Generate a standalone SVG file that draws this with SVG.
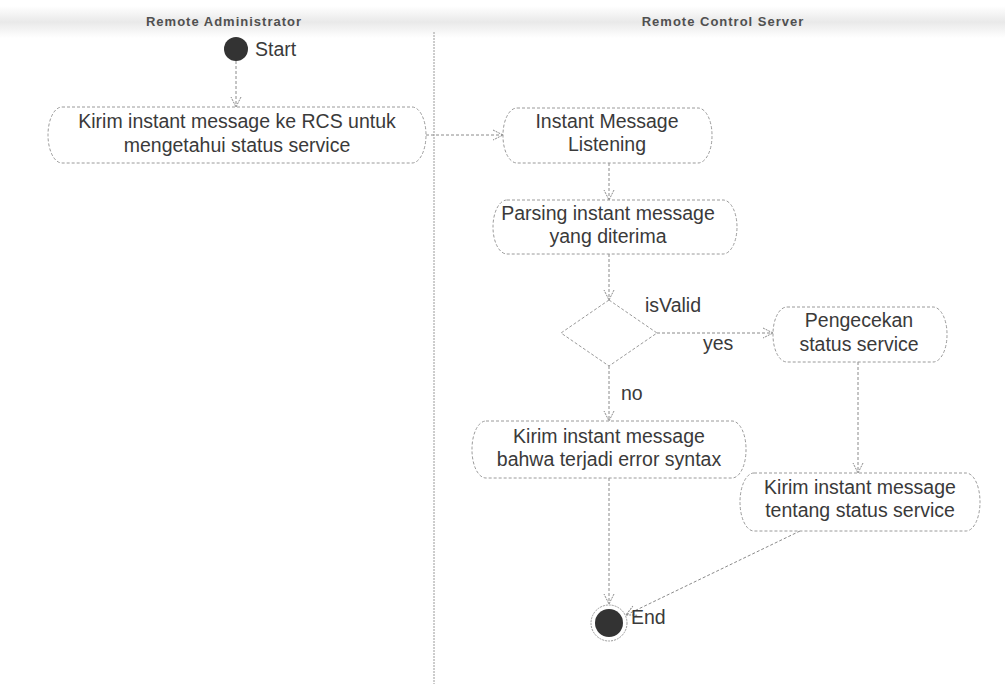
<svg xmlns="http://www.w3.org/2000/svg" width="1005" height="684" viewBox="0 0 1005 684">
<defs>
<linearGradient id="band" x1="0" y1="0" x2="0" y2="1">
<stop offset="0" stop-color="#ffffff"/>
<stop offset="0.5" stop-color="#e9e9e9"/>
<stop offset="1" stop-color="#ffffff"/>
</linearGradient>
<marker id="arr" viewBox="0 0 12 12" refX="11" refY="6" markerWidth="12" markerHeight="12" markerUnits="userSpaceOnUse" orient="auto">
<path d="M1,1 L11,6 L1,11" fill="none" stroke="#8a8a8a" stroke-width="1" stroke-dasharray="2,1"/>
</marker>
<style>
.node{fill:#ffffff;stroke:#9a9a9a;stroke-width:1;stroke-dasharray:3,2}
.t{font-family:"Liberation Sans",Arial,sans-serif;font-size:19.5px;fill:#3a3a3a;text-anchor:middle}
.lbl{font-family:"Liberation Sans",Arial,sans-serif;font-size:19.5px;fill:#3a3a3a}
.hdr{font-family:"Liberation Sans",Arial,sans-serif;font-size:13px;font-weight:bold;fill:#505050;text-anchor:middle;letter-spacing:1px}
.c{fill:none;stroke:#8a8a8a;stroke-width:1;stroke-dasharray:3,2}
</style>
</defs>
<rect width="1005" height="684" fill="#ffffff"/>
<g id="lanes">
<rect x="0" y="6" width="1005" height="32" fill="url(#band)"/>
<text class="hdr" x="224" y="26">Remote Administrator</text>
<text class="hdr" x="723" y="26">Remote Control Server</text>
<line x1="434" y1="32" x2="434" y2="684" stroke="#9a9a9a" stroke-width="1" stroke-dasharray="2,1"/>
</g>
<g id="connectors">
<line class="c" x1="236" y1="61" x2="236" y2="107" marker-end="url(#arr)"/>
<line class="c" x1="426" y1="135" x2="503" y2="135" marker-end="url(#arr)"/>
<line class="c" x1="609" y1="163" x2="609" y2="200" marker-end="url(#arr)"/>
<line class="c" x1="609" y1="254" x2="609" y2="300" marker-end="url(#arr)"/>
<line class="c" x1="657" y1="333" x2="773" y2="333" marker-end="url(#arr)"/>
<line class="c" x1="609" y1="366" x2="609" y2="421" marker-end="url(#arr)"/>
<line class="c" x1="858" y1="362" x2="858" y2="473" marker-end="url(#arr)"/>
<line class="c" x1="609" y1="478" x2="609" y2="604" marker-end="url(#arr)"/>
<line class="c" x1="800" y1="531" x2="626" y2="615" marker-end="url(#arr)"/>
<text class="lbl" x="645" y="312">isValid</text>
<text class="lbl" x="703" y="350">yes</text>
<text class="lbl" x="621" y="400">no</text>
</g>
<g id="start">
<circle cx="236" cy="49" r="12" fill="#333333"/>
<text class="lbl" x="255" y="56">Start</text>
</g>
<g id="n1">
<rect class="node" x="48" y="107" width="378" height="56" rx="14" ry="28"/>
<text class="t" x="237" y="128">Kirim instant message ke RCS untuk</text>
<text class="t" x="237" y="152">mengetahui status service</text>
</g>
<g id="n2">
<rect class="node" x="503" y="108" width="209" height="55" rx="14" ry="27"/>
<text class="t" x="607" y="128">Instant Message</text>
<text class="t" x="607" y="151">Listening</text>
</g>
<g id="n3">
<rect class="node" x="493" y="200" width="244" height="54" rx="14" ry="27"/>
<text class="t" x="608" y="220">Parsing instant message</text>
<text class="t" x="608" y="243">yang diterima</text>
</g>
<g id="decision">
<polygon class="node" points="609,300 657,333 609,366 561,333"/>
</g>
<g id="n4">
<rect class="node" x="773" y="307" width="174" height="55" rx="14" ry="27"/>
<text class="t" x="859" y="327">Pengecekan</text>
<text class="t" x="859" y="351">status service</text>
</g>
<g id="n5">
<rect class="node" x="472" y="421" width="274" height="57" rx="14" ry="28"/>
<text class="t" x="609" y="443">Kirim instant message</text>
<text class="t" x="609" y="466">bahwa terjadi error syntax</text>
</g>
<g id="n6">
<rect class="node" x="740" y="473" width="240" height="58" rx="14" ry="29"/>
<text class="t" x="860" y="494">Kirim instant message</text>
<text class="t" x="860" y="517">tentang status service</text>
</g>
<g id="end">
<circle cx="609" cy="623" r="18" fill="#ffffff" stroke="#9a9a9a" stroke-width="1" stroke-dasharray="2,1"/>
<circle cx="609" cy="623" r="14" fill="#333333"/>
<text class="lbl" x="631" y="624">End</text>
</g>
</svg>
